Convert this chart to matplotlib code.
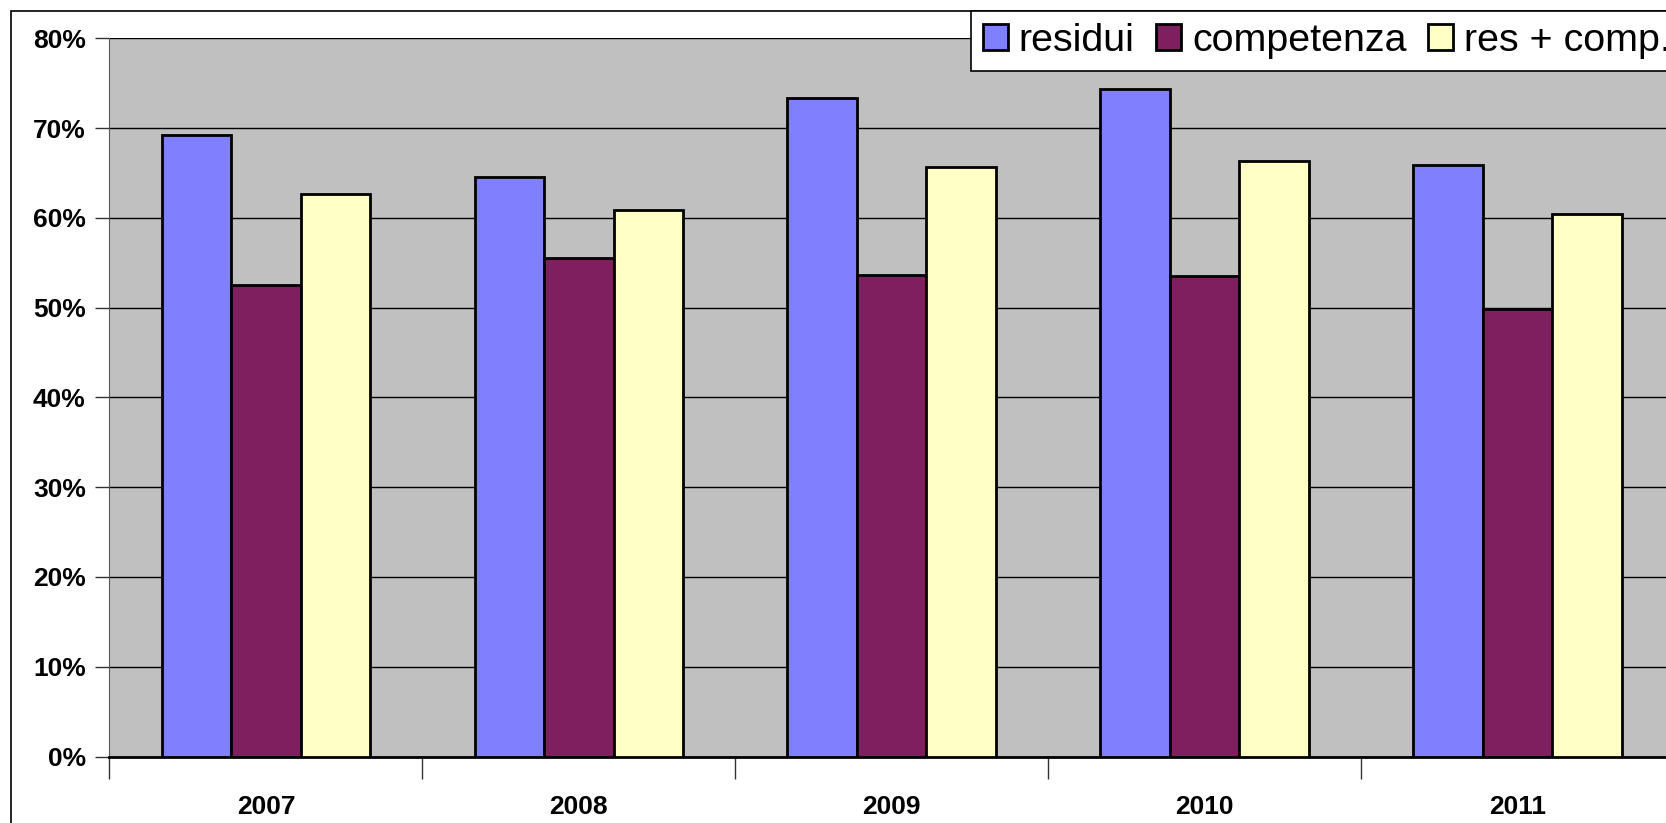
import numpy as np
import matplotlib
matplotlib.use('Agg')
import matplotlib.pyplot as plt
from matplotlib.patches import Rectangle
from matplotlib.ticker import FuncFormatter

years = ['2007', '2008', '2009', '2010', '2011']
residui = [69.2, 64.5, 73.4, 74.3, 65.9]
competenza = [52.5, 55.5, 53.6, 53.5, 49.9]
res_comp = [62.7, 60.9, 65.7, 66.3, 60.4]

series = [('residui', residui, '#8080FF'),
          ('competenza', competenza, '#7F1F5F'),
          ('res + comp.', res_comp, '#FFFFC6')]

plt.rcParams['font.family'] = ['Liberation Sans', 'DejaVu Sans']

fig = plt.figure(figsize=(16.66, 8.23), dpi=100)

# outer chart border (cut off at the right and bottom like the original)
fig.patches.append(Rectangle((11 / 1666, -0.1), 1.2, 1 - 11 / 823 + 0.1,
                             transform=fig.transFigure, fill=False,
                             edgecolor='black', linewidth=1.2, zorder=0))

ax = fig.add_axes([0.0657, 0.0808, 0.9391, 0.8727])
ax.set_facecolor('#C0C0C0')

x = np.arange(len(years))
w = 1 / 4.5
for i, (name, vals, col) in enumerate(series):
    ax.bar(x + (i - 1) * w, vals, width=w, color=col, edgecolor='black',
           linewidth=2, label=name, zorder=3)

ax.set_xlim(-0.5, len(years) - 0.5)
ax.set_ylim(0, 80)
ax.set_yticks(np.arange(0, 81, 10))
ax.yaxis.set_major_formatter(FuncFormatter(lambda v, p: f'{v:.0f}%'))
ax.grid(axis='y', color='black', linewidth=1, zorder=1)

ax.set_xticks(x)
ax.set_xticklabels(years)
ax.set_xticks(np.arange(len(years) + 1) - 0.5, minor=True)
ax.tick_params(axis='x', which='major', length=0, pad=28, labelsize=19)
ax.tick_params(axis='x', which='minor', length=16, width=1, color='#333333')
ax.tick_params(axis='y', length=10, width=1, pad=7, labelsize=19, color='#333333')
for lab in ax.get_xticklabels() + ax.get_yticklabels():
    lab.set_fontweight('bold')

for s in ['top', 'right']:
    ax.spines[s].set_visible(False)
ax.spines['left'].set_color('#555555')
ax.spines['bottom'].set_color('black')
ax.spines['bottom'].set_linewidth(2)

leg = fig.legend(loc='upper left', bbox_to_anchor=(971 / 1666, 1 - 11 / 823),
                 ncol=3, fontsize=28.4, frameon=True, fancybox=False,
                 edgecolor='black', framealpha=1, borderpad=0.3,
                 handlelength=0.63, handleheight=0.63, handletextpad=0.28,
                 columnspacing=0.55, borderaxespad=0)
leg.get_frame().set_linewidth(1.2)

fig.savefig('out.png', dpi=100)
